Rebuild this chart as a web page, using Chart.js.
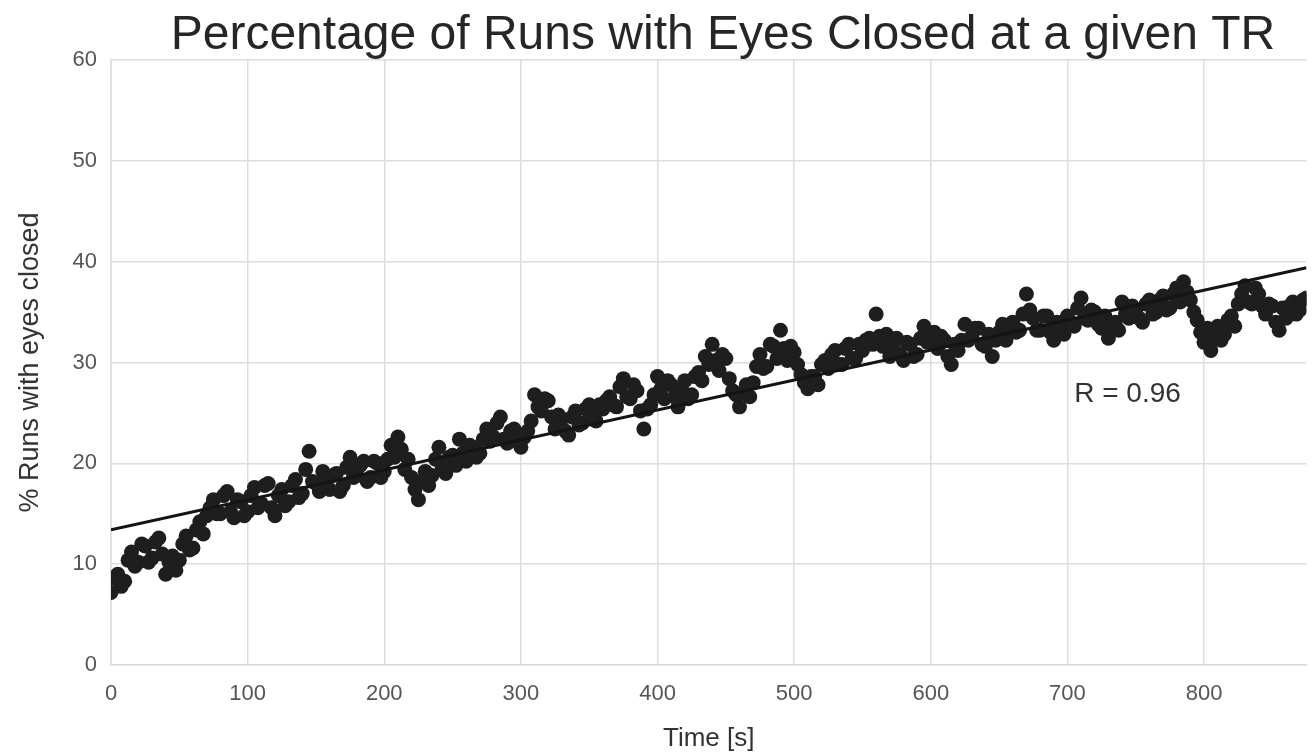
<!DOCTYPE html>
<html>
<head>
<meta charset="utf-8">
<script src="https://cdn.jsdelivr.net/npm/chart.js@4.4.1/dist/chart.umd.min.js"></script>
<style>
  html, body { margin: 0; padding: 0; background: #fff; }
</style>
</head>
<body>
<canvas id="chart" width="1314" height="754"></canvas>
<script>
// TR samples, split in two interleaved halves (seconds / % of runs)
const timeEven = [
  0, 5, 10, 15, 20, 25, 30, 35, 40, 45,
  50, 55, 60, 65, 70, 75, 80, 85, 90, 95,
  100, 105, 110, 115, 120, 125, 130, 135, 140, 145,
  150, 155, 160, 165, 170, 175, 180, 185, 190, 195,
  200, 205, 210, 215, 220, 225, 230, 235, 240, 245,
  250, 255, 260, 265, 270, 275, 280, 285, 290, 295,
  300, 305, 310, 315, 320, 325, 330, 335, 340, 345,
  350, 355, 360, 365, 370, 375, 380, 385, 390, 395,
  400, 405, 410, 415, 420, 425, 430, 435, 440, 445,
  450, 455, 460, 465, 470, 475, 480, 485, 490, 495,
  500, 505, 510, 515, 520, 525, 530, 535, 540, 545,
  550, 555, 560, 565, 570, 575, 580, 585, 590, 595,
  600, 605, 610, 615, 620, 625, 630, 635, 640, 645,
  650, 655, 660, 665, 670, 675, 680, 685, 690, 695,
  700, 705, 710, 715, 720, 725, 730, 735, 740, 745,
  750, 755, 760, 765, 770, 775, 780, 785, 790, 795,
  800, 805, 810, 815, 820, 825, 830, 835, 840, 845,
  850, 855, 860, 865, 870, 875
];
const pctEven = [
  7.2, 9.0, 8.3, 11.2, 10.2, 11.8, 10.6, 12.6, 9.0, 10.8,
  10.4, 12.8, 11.6, 14.2, 14.8, 16.4, 15.0, 17.2, 14.6, 16.2,
  15.2, 17.6, 16.0, 18.0, 14.8, 17.4, 16.2, 18.4, 17.0, 21.2,
  18.0, 19.2, 17.4, 19.0, 17.8, 20.6, 18.8, 20.2, 18.6, 20.0,
  19.2, 21.8, 22.6, 19.4, 18.6, 16.4, 19.2, 18.8, 21.6, 19.0,
  20.8, 22.4, 20.2, 21.6, 21.0, 23.4, 22.6, 24.6, 22.0, 23.4,
  21.6, 23.2, 26.8, 25.2, 26.2, 23.4, 24.4, 22.8, 25.2, 24.0,
  25.8, 24.2, 25.4, 26.6, 25.6, 28.4, 26.4, 27.2, 23.4, 25.8,
  28.6, 26.4, 27.8, 25.6, 28.2, 26.8, 29.0, 30.6, 31.8, 29.2,
  30.4, 27.2, 25.6, 27.8, 28.0, 30.8, 29.6, 31.6, 33.2, 30.2,
  31.0, 28.8, 27.4, 28.6, 29.8, 29.4, 31.2, 29.8, 31.8, 30.4,
  31.2, 32.4, 34.8, 31.6, 30.6, 32.4, 30.2, 31.8, 30.8, 33.6,
  32.6, 31.4, 32.2, 29.8, 31.2, 33.8, 32.6, 33.4, 31.6, 30.6,
  33.0, 32.2, 34.0, 33.2, 36.8, 34.4, 33.2, 34.6, 32.2, 33.8,
  34.6, 33.6, 36.4, 34.2, 35.0, 33.4, 32.4, 34.0, 36.0, 34.4,
  35.2, 34.0, 36.2, 35.0, 36.6, 35.4, 37.4, 38.0, 36.2, 34.2,
  32.0, 31.2, 33.6, 32.8, 34.6, 35.8, 37.6, 35.8, 36.8, 34.8,
  35.6, 33.2, 34.4, 36.0, 35.2, 36.4
];
const timeOdd = [
  2.5, 7.5, 12.5, 17.5, 22.5, 27.5, 32.5, 37.5, 42.5, 47.5,
  52.5, 57.5, 62.5, 67.5, 72.5, 77.5, 82.5, 87.5, 92.5, 97.5,
  102.5, 107.5, 112.5, 117.5, 122.5, 127.5, 132.5, 137.5, 142.5, 147.5,
  152.5, 157.5, 162.5, 167.5, 172.5, 177.5, 182.5, 187.5, 192.5, 197.5,
  202.5, 207.5, 212.5, 217.5, 222.5, 227.5, 232.5, 237.5, 242.5, 247.5,
  252.5, 257.5, 262.5, 267.5, 272.5, 277.5, 282.5, 287.5, 292.5, 297.5,
  302.5, 307.5, 312.5, 317.5, 322.5, 327.5, 332.5, 337.5, 342.5, 347.5,
  352.5, 357.5, 362.5, 367.5, 372.5, 377.5, 382.5, 387.5, 392.5, 397.5,
  402.5, 407.5, 412.5, 417.5, 422.5, 427.5, 432.5, 437.5, 442.5, 447.5,
  452.5, 457.5, 462.5, 467.5, 472.5, 477.5, 482.5, 487.5, 492.5, 497.5,
  502.5, 507.5, 512.5, 517.5, 522.5, 527.5, 532.5, 537.5, 542.5, 547.5,
  552.5, 557.5, 562.5, 567.5, 572.5, 577.5, 582.5, 587.5, 592.5, 597.5,
  602.5, 607.5, 612.5, 617.5, 622.5, 627.5, 632.5, 637.5, 642.5, 647.5,
  652.5, 657.5, 662.5, 667.5, 672.5, 677.5, 682.5, 687.5, 692.5, 697.5,
  702.5, 707.5, 712.5, 717.5, 722.5, 727.5, 732.5, 737.5, 742.5, 747.5,
  752.5, 757.5, 762.5, 767.5, 772.5, 777.5, 782.5, 787.5, 792.5, 797.5,
  802.5, 807.5, 812.5, 817.5, 822.5, 827.5, 832.5, 837.5, 842.5, 847.5,
  852.5, 857.5, 862.5, 867.5, 872.5
];
const pctOdd = [
  8.6, 7.8, 10.4, 9.8, 12.0, 10.2, 12.2, 11.0, 10.2, 9.4,
  12.0, 11.4, 13.4, 13.0, 15.6, 15.0, 16.8, 15.2, 16.4, 14.8,
  16.8, 15.6, 17.8, 15.6, 16.8, 15.8, 17.8, 16.6, 19.4, 18.2,
  17.2, 18.4, 18.8, 17.2, 19.6, 18.6, 19.8, 18.2, 20.2, 18.6,
  20.4, 20.6, 21.4, 20.4, 17.4, 18.2, 17.8, 20.4, 19.6, 20.6,
  19.8, 21.0, 21.8, 20.6, 22.4, 22.2, 24.0, 22.4, 23.2, 22.2,
  22.6, 24.2, 25.6, 26.4, 24.6, 24.8, 23.2, 24.6, 23.8, 25.4,
  24.6, 25.8, 26.2, 25.8, 27.6, 26.6, 27.8, 25.2, 25.4, 26.8,
  27.4, 28.2, 26.6, 27.4, 26.4, 28.6, 28.2, 29.8, 30.2, 30.8,
  28.4, 26.8, 27.0, 26.6, 29.6, 29.4, 31.8, 30.4, 31.4, 31.6,
  29.8, 28.0, 28.6, 27.8, 30.2, 30.8, 29.8, 31.4, 30.4, 31.8,
  32.2, 31.8, 32.6, 32.8, 31.6, 30.8, 32.0, 30.6, 32.4, 32.0,
  33.0, 32.6, 30.6, 31.8, 32.2, 32.2, 33.4, 31.8, 32.8, 32.2,
  33.8, 33.6, 33.0, 34.8, 35.2, 33.2, 34.6, 33.0, 34.0, 32.8,
  34.0, 35.4, 34.4, 35.2, 33.8, 34.6, 33.8, 33.2, 34.8, 35.6,
  34.4, 35.8, 34.8, 36.2, 35.2, 36.8, 36.0, 37.0, 35.0, 33.0,
  33.4, 32.4, 32.2, 34.2, 33.6, 36.8, 36.0, 37.4, 35.6, 35.8,
  34.0, 35.4, 35.6, 34.8, 36.2
];

// end points of the fitted regression line
const fitTime = [0, 875];
const fitPct = [13.4, 39.4];

const xRange = [0, 875];
const yRange = [0, 60];
const rText = "R = 0.96";
const rPos = [705, 26.8];

const FONT = "'Liberation Sans', Arial, sans-serif";
const GRID = "#dddddd";

const points = timeEven.map((t, i) => ({ x: t, y: pctEven[i] }))
  .concat(timeOdd.map((t, i) => ({ x: t, y: pctOdd[i] })));
const fitPoints = fitTime.map((t, i) => ({ x: t, y: fitPct[i] }));

// title and R label
const textPlugin = {
  id: "textPlugin",
  afterDraw(chart) {
    const { ctx, scales } = chart;
    ctx.save();
    ctx.fillStyle = "#262626";
    ctx.font = "48px " + FONT;
    ctx.textAlign = "center";
    ctx.textBaseline = "middle";
    ctx.fillText("Percentage of Runs with Eyes Closed at a given TR", 723, 36);

    ctx.fillStyle = "#333333";
    ctx.font = "28px " + FONT;
    ctx.textAlign = "left";
    ctx.fillText(rText, scales.x.getPixelForValue(rPos[0]), scales.y.getPixelForValue(rPos[1]));
    ctx.restore();
  },
};

new Chart(document.getElementById("chart"), {
  type: "scatter",
  data: {
    datasets: [
      {
        label: "fit",
        type: "line",
        data: fitPoints,
        borderColor: "#141414",
        borderWidth: 3,
        pointRadius: 0,
        fill: false,
        order: 0,
      },
      {
        label: "runs",
        data: points,
        backgroundColor: "#1e1e1e",
        borderWidth: 0,
        pointRadius: 7.5,
        pointHoverRadius: 7.5,
        order: 1,
      },
    ],
  },
  options: {
    responsive: false,
    animation: false,
    layout: { padding: { top: 60, right: 0, left: 0, bottom: 0 } },
    plugins: {
      legend: { display: false },
      tooltip: { enabled: false },
    },
    scales: {
      x: {
        type: "linear",
        min: xRange[0],
        max: xRange[1],
        afterFit: (s) => { s.height = 89; },
        ticks: {
          stepSize: 100,
          includeBounds: false,
          color: "#555555",
          padding: 16,
          font: { family: FONT, size: 22 },
        },
        grid: { color: GRID, lineWidth: 1.5, drawTicks: false },
        border: { color: GRID, width: 1.5 },
        title: {
          display: true,
          text: "Time [s]",
          color: "#333333",
          font: { family: FONT, size: 26 },
          padding: { top: 0, bottom: 0 },
        },
      },
      y: {
        min: yRange[0],
        max: yRange[1],
        afterFit: (s) => { s.width = 111; },
        ticks: {
          stepSize: 10,
          color: "#555555",
          padding: 14,
          font: { family: FONT, size: 22 },
        },
        grid: { color: GRID, lineWidth: 1.5, drawTicks: false },
        border: { color: GRID, width: 1.5 },
        title: {
          display: true,
          text: "% Runs with eyes closed",
          color: "#333333",
          font: { family: FONT, size: 27 },
          padding: { top: 14, bottom: 0 },
        },
      },
    },
  },
  plugins: [textPlugin],
});
</script>
</body>
</html>
